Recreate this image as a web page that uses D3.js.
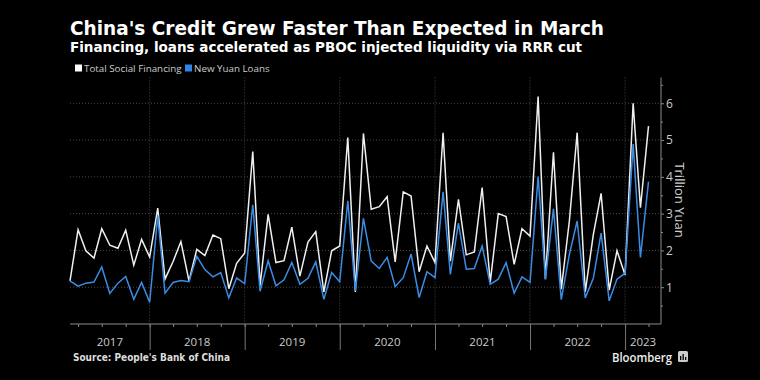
<!DOCTYPE html>
<html>
<head>
<meta charset="utf-8">
<script src="https://cdn.jsdelivr.net/npm/d3@7.9.0/dist/d3.min.js"></script>
<style>
  body { margin: 0; background: #000; }
  svg { display: block; font-family: "Liberation Sans", Arial, sans-serif; }
</style>
</head>
<body>
<svg id="chart" width="760" height="380"></svg>
<script>
// monthly data, Feb 2017 .. Mar 2023 (trillion yuan)
const months = d3.timeMonth.range(new Date(2017, 1, 1), new Date(2023, 3, 1));

const socialFinancing = [
  1.17, 2.56, 1.99, 1.79, 2.59, 2.14, 2.06, 2.55, 1.60, 2.30, 1.82,
  3.15, 1.22, 1.70, 2.24, 1.17, 2.03, 1.86, 2.42, 2.32, 0.96, 1.65, 1.93,
  4.69, 1.05, 2.98, 1.67, 1.72, 2.63, 1.30, 2.23, 2.51, 0.87, 1.99, 2.12,
  5.07, 0.87, 5.18, 3.12, 3.19, 3.46, 1.69, 3.59, 3.48, 1.42, 2.12, 1.67,
  5.20, 1.71, 3.39, 1.88, 1.96, 3.71, 1.13, 3.00, 2.92, 1.62, 2.59, 2.39,
  6.18, 1.22, 4.67, 0.95, 2.80, 5.20, 0.87, 2.43, 3.55, 0.92, 1.99, 1.33,
  6.00, 3.16, 5.38
];

const yuanLoans = [
  1.17, 1.03, 1.11, 1.14, 1.55, 0.83, 1.11, 1.29, 0.67, 1.13, 0.59,
  2.94, 0.84, 1.13, 1.18, 1.15, 1.84, 1.48, 1.28, 1.40, 0.71, 1.25, 1.10,
  3.24, 0.89, 1.72, 1.04, 1.20, 1.67, 1.08, 1.24, 1.69, 0.67, 1.40, 1.15,
  3.35, 0.90, 2.87, 1.71, 1.51, 1.81, 1.02, 1.26, 1.90, 0.72, 1.42, 1.26,
  3.59, 1.35, 2.74, 1.49, 1.51, 2.12, 1.08, 1.22, 1.67, 0.84, 1.28, 1.13,
  4.01, 1.22, 3.13, 0.66, 1.89, 2.80, 0.71, 1.24, 2.47, 0.63, 1.22, 1.38,
  4.89, 1.81, 3.87
];

const seriesNames = ['Total Social Financing', 'New Yuan Loans'];
const seriesColors = ['#f0f0f0', '#3a8de3'];
const yTicks = [1, 2, 3, 4, 5, 6];
const yearLabels = ['2017', '2018', '2019', '2020', '2021', '2022', '2023'];

const svg = d3.select('#chart');
const plotLeft = 70, plotRight = 661, plotTop = 77.5, plotBottom = 324;

// points sit at month end
const x = d3.scaleTime()
  .domain([new Date(2017, 2, 1), new Date(2023, 4, 19)])
  .range([plotLeft, plotRight]);
const y = d3.scaleLinear().domain([0, 6.7]).range([plotBottom, plotTop]);

svg.append('rect').attr('width', 760).attr('height', 380).attr('fill', '#000');

// title block
svg.append('text').attr('x', 70).attr('y', 35)
  .attr('fill', '#fff').attr('font-size', 19).attr('font-weight', 'bold')
  .attr('font-family', '"DejaVu Sans", sans-serif')
  .attr('textLength', 534).attr('lengthAdjust', 'spacingAndGlyphs')
  .text("China's Credit Grew Faster Than Expected in March");
svg.append('text').attr('x', 70).attr('y', 52)
  .attr('fill', '#fff').attr('font-size', 14).attr('font-weight', 'bold')
  .attr('font-family', '"DejaVu Sans", sans-serif')
  .attr('textLength', 512).attr('lengthAdjust', 'spacingAndGlyphs')
  .text('Financing, loans accelerated as PBOC injected liquidity via RRR cut');

// legend
const legendX = [75, 185];
seriesNames.forEach((name, i) => {
  svg.append('rect').attr('x', legendX[i]).attr('y', 64.5)
    .attr('width', 7).attr('height', 7).attr('fill', i === 0 ? '#fff' : '#2f86e8');
  svg.append('text').attr('x', legendX[i] + 9).attr('y', 71.5)
    .attr('fill', '#ccc').attr('font-size', 9.8)
    .attr('font-family', '"Open Sans", sans-serif').text(name);
});

// grid
const grid = svg.append('g').attr('stroke', '#4a4a4a').attr('stroke-dasharray', '1,2');
grid.selectAll('line.h').data(yTicks).join('line')
  .attr('x1', plotLeft).attr('x2', plotRight)
  .attr('y1', d => y(d)).attr('y2', d => y(d));
const yearStarts = d3.timeYear.range(new Date(2018, 0, 1), new Date(2023, 1, 1));
grid.selectAll('line.v').data(yearStarts).join('line')
  .attr('x1', d => x(d)).attr('x2', d => x(d))
  .attr('y1', plotTop).attr('y2', plotBottom);

// y axis on the right
const yAxis = svg.append('g').attr('transform', `translate(${plotRight},0)`)
  .call(d3.axisRight(y).tickValues(yTicks).tickSize(3).tickPadding(2).tickFormat(d3.format('d')));
svg.append('g').attr('transform', `translate(${plotRight},0)`)
  .call(d3.axisRight(y).tickValues([0.5, 1.5, 2.5, 3.5, 4.5, 5.5, 6.5]).tickSize(2).tickFormat(''))
  .call(g => g.select('.domain').remove());
yAxis.select('.domain').attr('d', `M0,${plotTop}V${plotBottom}`);
svg.selectAll('.tick line, .domain').attr('stroke', '#8a8a8a');
yAxis.selectAll('text').attr('fill', '#ccc').attr('font-size', 12)
  .attr('font-family', '"Open Sans", sans-serif');

svg.append('text')
  .attr('transform', 'translate(675,200) rotate(90)')
  .attr('text-anchor', 'middle').attr('fill', '#ccc').attr('font-size', 13)
  .attr('font-family', '"Open Sans", sans-serif')
  .text('Trillion Yuan');

// x axis
const xAxis = svg.append('g').attr('transform', `translate(0,${plotBottom})`)
  .call(d3.axisBottom(x).ticks(d3.timeMonth.every(3)).tickSize(3).tickFormat(''));
xAxis.select('.domain').attr('d', `M${plotLeft},0H${plotRight}`);
xAxis.selectAll('line, path').attr('stroke', '#8a8a8a');
svg.append('g').attr('transform', `translate(0,${plotBottom})`)
  .call(d3.axisBottom(x).tickValues(yearStarts).tickSize(26).tickFormat(''))
  .call(g => g.select('.domain').remove())
  .selectAll('line').attr('stroke', '#777');

svg.append('g').selectAll('text').data(yearLabels).join('text')
  .attr('x', d => {
    const a = Math.max(x(new Date(+d, 0, 1)), plotLeft);
    const b = Math.min(x(new Date(+d + 1, 0, 1)), plotRight);
    return (a + b) / 2;
  })
  .attr('y', 346).attr('text-anchor', 'middle')
  .attr('fill', '#ccc').attr('font-size', 11.5)
  .attr('font-family', '"Open Sans", sans-serif')
  .text(d => d);

// lines
const line = d3.line()
  .x((d, i) => x(d3.timeMonth.offset(months[i], 1)))
  .y(d => y(d));

[socialFinancing, yuanLoans].forEach((values, i) => {
  svg.append('path').datum(values)
    .attr('fill', 'none').attr('stroke', seriesColors[i])
    .attr('stroke-width', 1.5).attr('stroke-linejoin', 'miter')
    .attr('d', line);
});

// footer
svg.append('text').attr('x', 73).attr('y', 361)
  .attr('fill', '#ddd').attr('font-size', 10.5).attr('font-weight', 'bold')
  .attr('font-family', '"DejaVu Sans", sans-serif')
  .attr('textLength', 157).attr('lengthAdjust', 'spacingAndGlyphs')
  .text("Source: People's Bank of China");
svg.append('text').attr('x', 612).attr('y', 362)
  .attr('fill', '#eee').attr('font-size', 12.8).attr('font-weight', 600)
  .attr('font-family', '"Open Sans", sans-serif')
  .attr('textLength', 60).attr('lengthAdjust', 'spacingAndGlyphs')
  .text('Bloomberg');
const icon = svg.append('g').attr('transform', 'translate(678,351)');
icon.append('rect').attr('width', 10).attr('height', 11).attr('rx', 1.5).attr('fill', '#ccc');
[[2, 5, 4], [4.5, 3, 6], [7, 6, 3]].forEach(([bx, by, bh]) => {
  icon.append('rect').attr('x', bx).attr('y', by).attr('width', 1.3).attr('height', bh).attr('fill', '#000');
});
</script>
</body>
</html>
